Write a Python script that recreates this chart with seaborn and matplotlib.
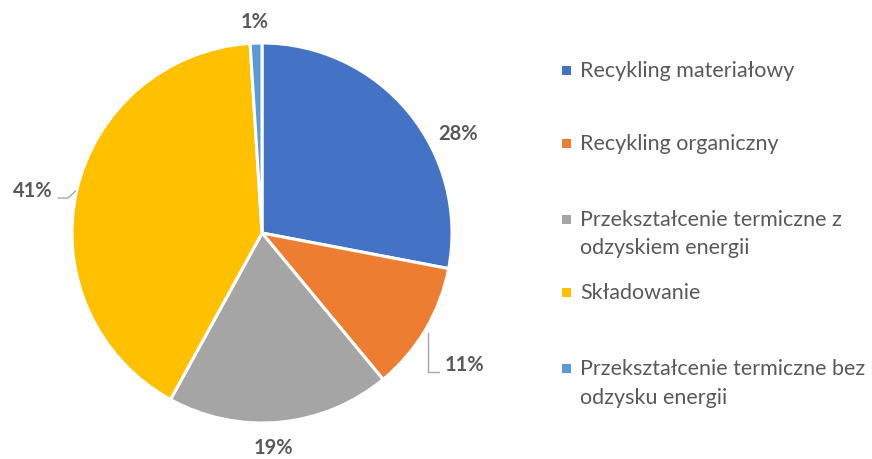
import matplotlib
matplotlib.use("Agg")
import matplotlib.pyplot as plt
import seaborn as sns

# Waste management structure (share of total, %)
categories = [
    "Recykling materiałowy",
    "Recykling organiczny",
    "Przekształcenie termiczne z\nodzyskiem energii",
    "Składowanie",
    "Przekształcenie termiczne bez\nodzysku energii",
]
shares = [28, 11, 19, 41, 1]
colors = ["#4472C4", "#ED7D31", "#A5A5A5", "#FFC000", "#5B9BD5"]

sns.set_theme(style="white")
plt.rcParams["font.family"] = ["Lato", "DejaVu Sans"]

W, H = 872, 459
fig = plt.figure(figsize=(W / 100, H / 100), dpi=100)

# pie centre and radius in pixels (top-left origin)
cx, cy, R = 262, 233, 190
ax = fig.add_axes([0, 0, 2 * cx / W, 1])
wedges, _ = ax.pie(
    shares,
    colors=colors,
    startangle=90,
    counterclock=False,
    radius=1,
    wedgeprops=dict(edgecolor="white", linewidth=2.2),
)
ax.set_aspect("auto")
ax.set_xlim(-cx / R, cx / R)
ax.set_ylim(-(H - cy) / R, cy / R)
ax.axis("off")

text_color = "#595959"
line_color = "#A6A6A6"

# data label anchors (pie units)
label_pos = [(1.032, 0.521), (1.068, -0.695), (0.058, -1.131), (-1.205, 0.221), (-0.037, 1.111)]
for v, (x, y) in zip(shares, label_pos):
    ax.text(x, y, f"{v}%", ha="center", va="center", fontsize=14.5,
            fontweight="bold", color=text_color)

# leader lines for the labels that sit away from their slices
ax.plot([-1.074, -1.021, -0.982], [0.184, 0.184, 0.221], color=line_color, lw=1, clip_on=False)
ax.plot([0.932, 0.874, 0.874], [-0.732, -0.732, -0.526], color=line_color, lw=1, clip_on=False)

# legend: square key plus text, wrapped entries continue one line lower
baselines = [77, 150, 226, 299, 375]
line_step = 28.5
for lab, col, yb in zip(categories, colors, baselines):
    fig.patches.append(plt.Rectangle((562 / W, 1 - (yb - 2) / H), 9 / W, 9 / H,
                                     transform=fig.transFigure, facecolor=col,
                                     edgecolor="none"))
    for i, part in enumerate(lab.split("\n")):
        fig.text(580 / W, 1 - (yb + i * line_step) / H, part, ha="left",
                 va="baseline", fontsize=15.5, color=text_color)

fig.savefig("out.png", dpi=100, facecolor="white")
